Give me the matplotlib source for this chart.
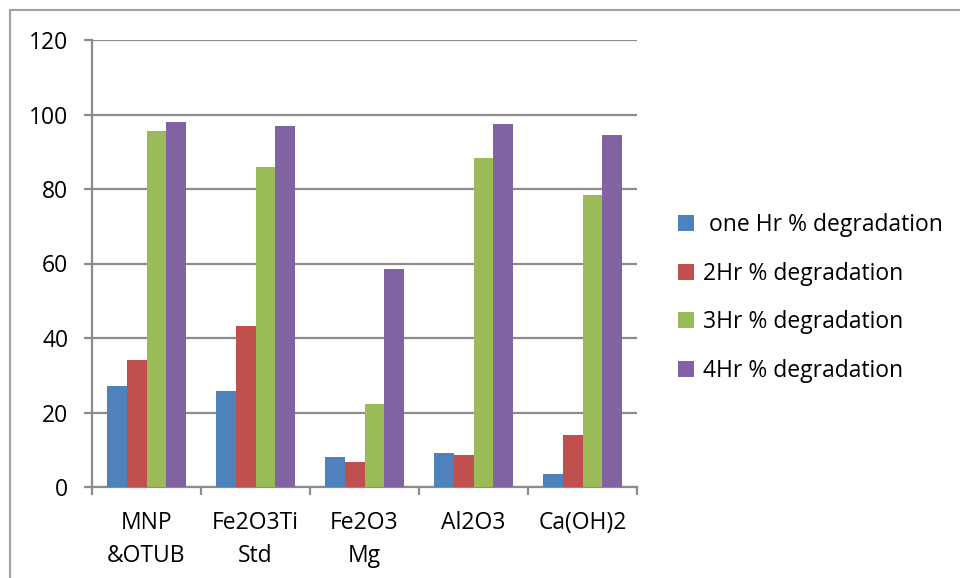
import matplotlib.pyplot as plt
import numpy as np
from matplotlib.lines import Line2D

# data
categories = ["MNP\n&OTUB", "Fe2O3Ti\nStd", "Fe2O3\nMg", "Al2O3", "Ca(OH)2"]
series_names = [" one Hr % degradation", "2Hr % degradation",
                "3Hr % degradation", "4Hr % degradation"]
one_hr = [27.2, 25.8, 8.1, 9.0, 3.4]
two_hr = [34.1, 43.3, 6.6, 8.6, 14.0]
three_hr = [95.5, 86.0, 22.2, 88.3, 78.4]
four_hr = [97.9, 97.0, 58.5, 97.4, 94.6]
colors = ["#4F81BD", "#C0504D", "#9BBB59", "#8064A2"]

plt.rcParams['font.family'] = ['Open Sans', 'DejaVu Sans']
fs = 16.5

fig = plt.figure(figsize=(9.6, 5.78), dpi=100)
ax = fig.add_axes([92 / 960, 1 - 487 / 578, (637 - 92) / 960, (487 - 40) / 578])

x = np.arange(len(categories))
w = 0.18
all_series = [one_hr, two_hr, three_hr, four_hr]
for i, vals in enumerate(all_series):
    ax.bar(x + (i - 1.5) * w, vals, width=w, color=colors[i],
           label=series_names[i], zorder=3)

ax.set_xlim(-0.5, len(categories) - 0.5)
ax.set_ylim(0, 120)
ax.set_yticks(range(0, 121, 20))
ax.grid(axis='y', color='#8c8c8c', linewidth=1.6, zorder=0)

for s in ['top', 'right']:
    ax.spines[s].set_visible(False)
for s in ['left', 'bottom']:
    ax.spines[s].set_color('#8c8c8c')
    ax.spines[s].set_linewidth(1.6)

ax.set_xticks(x)
ax.set_xticklabels(categories, fontsize=fs, linespacing=1.5)
ax.set_xticks(np.arange(-0.5, len(categories)), minor=True)
ax.tick_params(axis='x', which='major', length=0, pad=17)
ax.tick_params(axis='x', which='minor', length=6, width=1.6, color='#8c8c8c')
ax.tick_params(axis='y', length=6, width=1.6, color='#8c8c8c', labelsize=fs, pad=11)

ax.legend(loc='center left', bbox_to_anchor=(678 / 960, 1 - 298 / 578),
          bbox_transform=fig.transFigure, frameon=False, fontsize=fs,
          handlelength=0.7, handleheight=0.7, handletextpad=0.4,
          labelspacing=1.08, borderaxespad=0, borderpad=0)

# outer chart frame (left and top edges)
fig.add_artist(Line2D([10 / 960, 10 / 960], [0, 1 - 10 / 578], color='#a0a0a0', lw=1.5,
                      transform=fig.transFigure))
fig.add_artist(Line2D([10 / 960, 1], [1 - 10 / 578, 1 - 10 / 578], color='#a0a0a0', lw=1.5,
                      transform=fig.transFigure))

fig.savefig("out.png", dpi=100)
